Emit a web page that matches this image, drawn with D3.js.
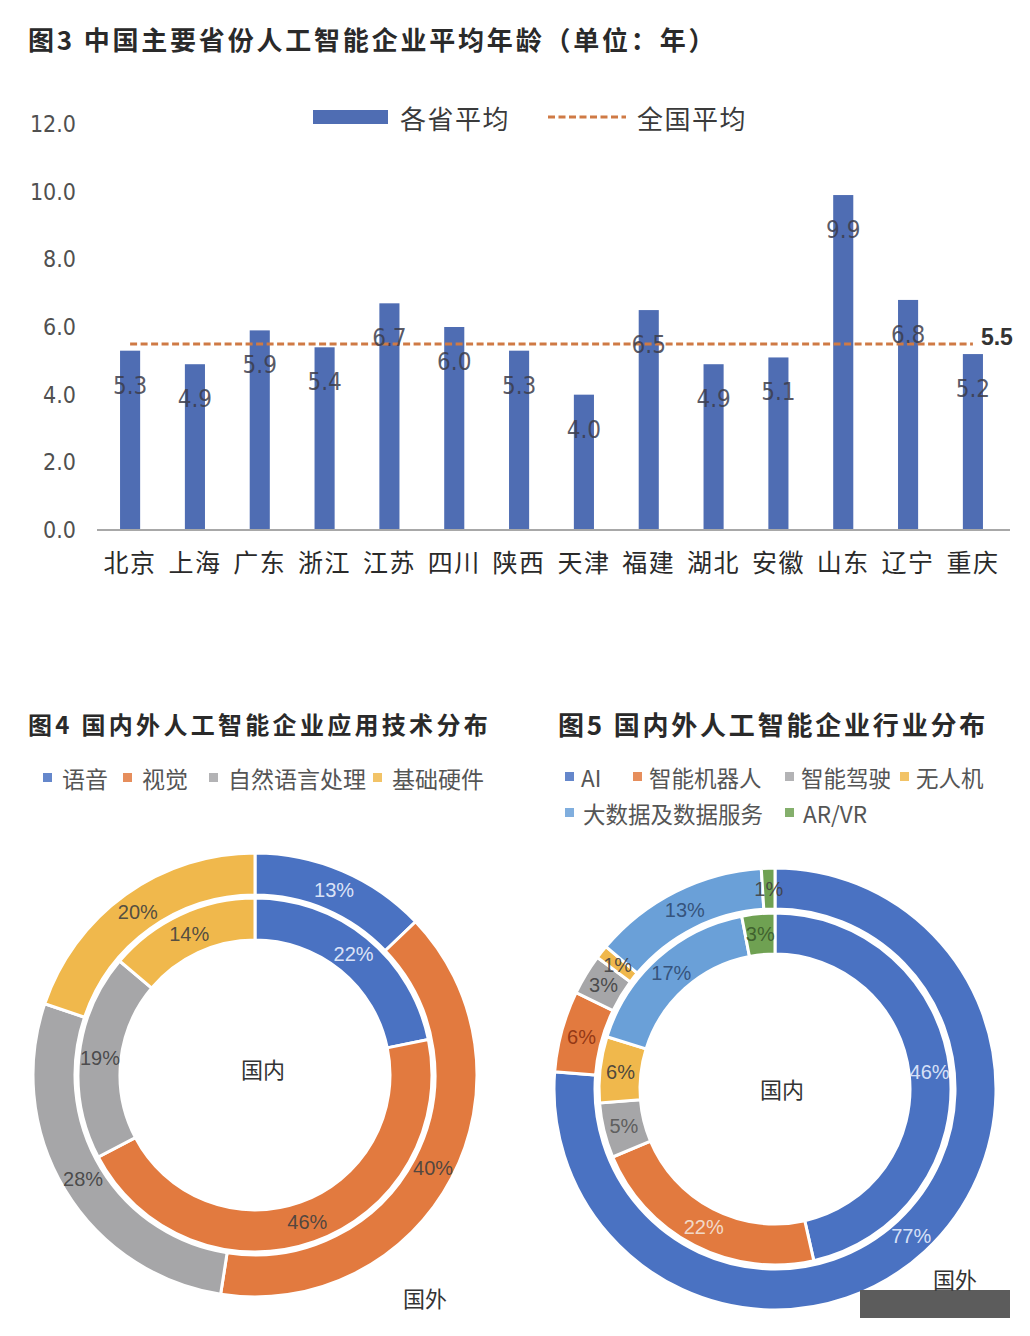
<!DOCTYPE html>
<html>
<head>
<meta charset="utf-8">
<script src="https://cdn.jsdelivr.net/npm/d3@7"></script>
<style>
  html, body { margin: 0; padding: 0; background: #ffffff; }
  svg { display: block; }
</style>
</head>
<body>
<svg id="chart" width="1030" height="1336"></svg>
<script>
// ---------------- DATA ----------------
const provinces = ["北京","上海","广东","浙江","江苏","四川","陕西","天津","福建","湖北","安徽","山东","辽宁","重庆"];
const provinceAvg = [5.3,4.9,5.9,5.4,6.7,6.0,5.3,4.0,6.5,4.9,5.1,9.9,6.8,5.2];
const nationalAvg = 5.5;
const yTicks = [0,2,4,6,8,10,12];
const barLegend = ["各省平均","全国平均"];

const techCats = ["语音","视觉","自然语言处理","基础硬件"];
const techDomestic = [22,46,19,14];
const techForeign = [13,40,28,20];

const indCats = ["AI","智能机器人","智能驾驶","无人机","大数据及数据服务","AR/VR"];
const indDomestic = [46,22,5,6,17,3];
const indForeign = [77,6,3,1,13,1];

const titles = ["图3  中国主要省份人工智能企业平均年龄（单位：年）","图4  国内外人工智能企业应用技术分布","图5  国内外人工智能企业行业分布"];

// ---------------- STYLE / LAYOUT ----------------
const CJK = "'Noto Sans CJK SC','Noto Sans',sans-serif";
const NUM = "'Liberation Sans Narrow','DejaVu Sans Condensed','Liberation Sans',sans-serif";
const barColor = "#4f6db3";
const avgColor = "#cf7a45";
const techColors = ["#4a72c2","#e27a3f","#a6a6a8","#f0b84c"];
const techLabelColors = ["#eef3ff","#404040","#404040","#404040"];
const indColors = ["#4a72c2","#e27a3f","#a6a6a8","#f0b84c","#6aa0d8","#6fa152"];
const indLabelColorsIn = ["#e8f0ff","#f4e6dc","#555555","#3a3a3a","#2f4a70","#3a5a2a"];
const indLabelColorsOut = ["#e8f0ff","#8a3010","#404040","#404040","#2f4a70","#404040"];
// legend square x positions (layout)
const techLegendX = [43, 123, 209, 373];
const indLegendX = [[565, 633, 785, 900], [565, 785]];

const svg = d3.select("#chart");

// ---------------- FIG 3: BAR CHART ----------------
svg.append("text").attr("x", 28).attr("y", 38).attr("dominant-baseline","central")
  .attr("font-family", CJK).attr("font-weight","bold").attr("font-size", 26)
  .attr("letter-spacing", 2.8).attr("fill","#2a2a2a").text(titles[0]);

const x = d3.scaleBand().domain(provinces).range([98, 1005]).paddingInner(0.69).paddingOuter(0.34);
const y = d3.scaleLinear().domain([0, 12]).range([530, 124]);

// y tick labels
const yAxis = d3.axisLeft(y).tickValues(yTicks).tickFormat(d3.format(".1f")).tickSize(0).tickPadding(0);
const gy = svg.append("g").attr("transform","translate(76,0)").call(yAxis);
gy.select(".domain").remove();
gy.selectAll("text").attr("font-family", NUM).attr("font-size", 23).attr("fill","#505050");

// bars
svg.append("g").selectAll("rect").data(provinceAvg).join("rect")
  .attr("x", (d,i) => x(provinces[i]))
  .attr("y", d => y(d))
  .attr("width", x.bandwidth())
  .attr("height", d => y(0) - y(d))
  .attr("fill", barColor);

// x axis
const xAxis = d3.axisBottom(x).tickSize(0).tickPadding(22);
const gx = svg.append("g").attr("transform", `translate(0,${y(0)})`).call(xAxis);
gx.select(".domain").attr("d", "M97,0H1010").attr("stroke","#a8a8a8").attr("stroke-width",2.2);
gx.selectAll("text").attr("font-family", CJK).attr("font-size", 25).attr("fill","#2a2a2a")
  .attr("letter-spacing", 1.5).attr("dy","0.35em");
gx.selectAll(".tick text").attr("y", 33);

// national average line
const cx = p => x(p) + x.bandwidth()/2;
svg.append("line")
  .attr("x1", cx(provinces[0])).attr("x2", cx(provinces[provinces.length-1]))
  .attr("y1", y(nationalAvg)).attr("y2", y(nationalAvg))
  .attr("stroke", avgColor).attr("stroke-width", 3).attr("stroke-dasharray","7,3.5");
svg.append("text").attr("x", cx(provinces[provinces.length-1]) + 8).attr("y", y(nationalAvg) - 7)
  .attr("dominant-baseline","central").attr("font-family","'Liberation Sans',sans-serif")
  .attr("font-weight","bold").attr("font-size", 23).attr("fill","#333").text(d3.format(".1f")(nationalAvg));

// value labels (inside bars near top)
svg.append("g").selectAll("text").data(provinceAvg).join("text")
  .attr("x", (d,i) => cx(provinces[i]))
  .attr("y", d => y(d) + 35)
  .attr("text-anchor","middle").attr("dominant-baseline","central")
  .attr("font-family", NUM).attr("font-size", 24).attr("fill","#3c3c4a").attr("fill-opacity",0.85)
  .text(d => d3.format(".1f")(d));

// legend
const lg = svg.append("g");
lg.append("rect").attr("x", 313).attr("y", 110).attr("width", 75).attr("height", 14).attr("fill", barColor);
lg.append("text").attr("x", 400).attr("y", 117).attr("dominant-baseline","central")
  .attr("font-family", CJK).attr("font-size", 26).attr("letter-spacing",1.5).attr("fill","#3a3a3a").text(barLegend[0]);
lg.append("line").attr("x1", 548).attr("x2", 626).attr("y1", 117).attr("y2", 117)
  .attr("stroke", avgColor).attr("stroke-width", 3).attr("stroke-dasharray","7,3.5");
lg.append("text").attr("x", 637).attr("y", 117).attr("dominant-baseline","central")
  .attr("font-family", CJK).attr("font-size", 26).attr("letter-spacing",1.5).attr("fill","#3a3a3a").text(barLegend[1]);

// ---------------- DONUT HELPERS ----------------
function legendRow(g, items, colors, xs, yPos, fontSize, textOff) {
  items.forEach((name, i) => {
    g.append("rect").attr("x", xs[i]).attr("y", yPos - 5).attr("width", 9).attr("height", 9)
      .attr("fill", colors[i]).attr("fill-opacity", 0.85);
    g.append("text").attr("x", xs[i] + textOff).attr("y", yPos).attr("dominant-baseline","central")
      .attr("font-family", CJK).attr("font-size", fontSize).attr("fill","#555").text(name);
  });
}

function donut(g, cxp, cyp, innerVals, outerVals, colors, inLabCols, outLabCols, rIn, rMidIn, rMidOut, rOut) {
  const pie = d3.pie().sort(null).value(d => d).startAngle(0).endAngle(2*Math.PI);
  const rings = [
    {vals: outerVals, r0: rMidOut, r1: rOut, labCols: outLabCols},
    {vals: innerVals, r0: rIn, r1: rMidIn, labCols: inLabCols}
  ];
  const gg = g.append("g").attr("transform", `translate(${cxp},${cyp})`);
  rings.forEach(ring => {
    const arcs = pie(ring.vals);
    const arc = d3.arc().innerRadius(ring.r0).outerRadius(ring.r1);
    gg.append("g").selectAll("path").data(arcs).join("path")
      .attr("d", arc).attr("fill", (d,i) => colors[i])
      .attr("stroke","#fff").attr("stroke-width", 3);
    const lab = d3.arc().innerRadius((ring.r0+ring.r1)/2).outerRadius((ring.r0+ring.r1)/2);
    gg.append("g").selectAll("text").data(arcs).join("text")
      .attr("transform", d => `translate(${lab.centroid(d)})`)
      .attr("text-anchor","middle").attr("dominant-baseline","central")
      .attr("font-family","'Liberation Sans',sans-serif").attr("font-size", 20)
      .attr("fill", (d,i) => ring.labCols[i]).attr("fill-opacity", 0.9)
      .text(d => d.data + "%");
  });
  return gg;
}

// ---------------- FIG 4 ----------------
svg.append("text").attr("x", 28).attr("y", 723).attr("dominant-baseline","central")
  .attr("font-family", CJK).attr("font-weight","bold").attr("font-size", 24)
  .attr("letter-spacing", 3.3).attr("fill","#2a2a2a").text(titles[1]);
legendRow(svg.append("g"), techCats, techColors, techLegendX, 778, 23, 19);
donut(svg, 255, 1075, techDomestic, techForeign, techColors, techLabelColors, techLabelColors, 135, 177, 180, 222);
svg.append("text").attr("x", 263).attr("y", 1068).attr("text-anchor","middle").attr("dominant-baseline","central")
  .attr("font-family", CJK).attr("font-size", 22).attr("fill","#333").text("国内");
svg.append("text").attr("x", 425).attr("y", 1297).attr("text-anchor","middle").attr("dominant-baseline","central")
  .attr("font-family", CJK).attr("font-size", 22).attr("fill","#333").text("国外");

// ---------------- FIG 5 ----------------
svg.append("text").attr("x", 558).attr("y", 723).attr("dominant-baseline","central")
  .attr("font-family", CJK).attr("font-weight","bold").attr("font-size", 26)
  .attr("letter-spacing", 2.8).attr("fill","#2a2a2a").text(titles[2]);
const lg5 = svg.append("g");
legendRow(lg5, indCats.slice(0,4), indColors.slice(0,4), indLegendX[0], 777, 22.5, 16);
legendRow(lg5, indCats.slice(4), indColors.slice(4), indLegendX[1], 813, 22.5, 18);
donut(svg, 775, 1089, indDomestic, indForeign, indColors, indLabelColorsIn, indLabelColorsOut, 135, 176, 180, 221);
svg.append("text").attr("x", 782).attr("y", 1088).attr("text-anchor","middle").attr("dominant-baseline","central")
  .attr("font-family", CJK).attr("font-size", 22).attr("fill","#333").text("国内");

// watermark box (decorative, as in the source image)
svg.append("rect").attr("x", 860).attr("y", 1290).attr("width", 150).attr("height", 28).attr("fill","#5c5c5c");
svg.append("text").attr("x", 955).attr("y", 1278).attr("text-anchor","middle").attr("dominant-baseline","central")
  .attr("font-family", CJK).attr("font-size", 22).attr("fill","#333").text("国外");
</script>
</body>
</html>
